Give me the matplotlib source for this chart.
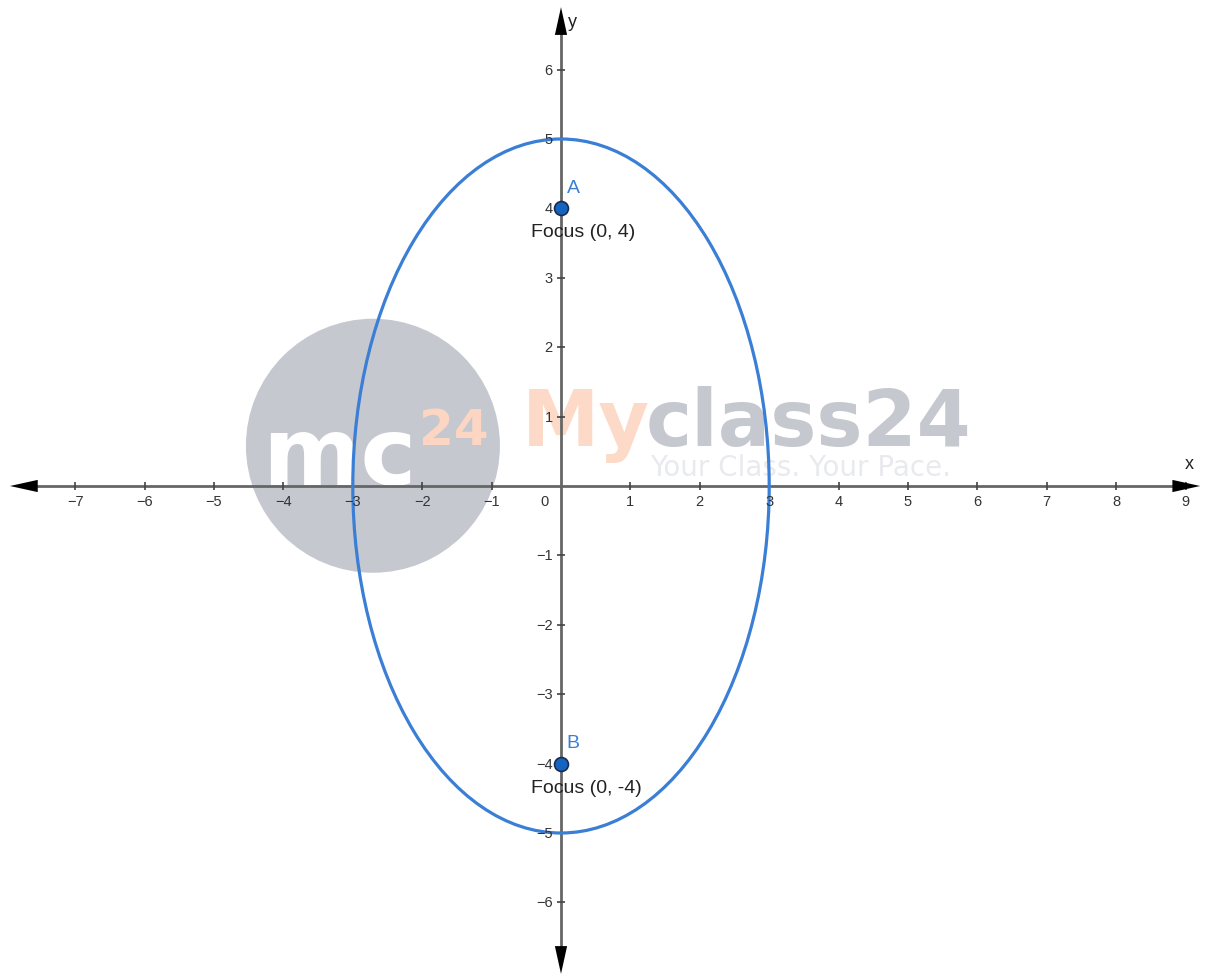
import matplotlib
matplotlib.use("Agg")
import matplotlib.pyplot as plt
from matplotlib.patches import Ellipse, Circle
import numpy as np

# ---- data ----
semi_minor_a = 3      # along x
semi_major_b = 5      # along y
foci_x = [0, 0]
foci_y = [4, -4]
foci_names = ["A", "B"]
foci_labels = ["Focus (0, 4)", "Focus (0, -4)"]
x_ticks = [-7, -6, -5, -4, -3, -2, -1, 1, 2, 3, 4, 5, 6, 7, 8, 9]
y_ticks = [-6, -5, -4, -3, -2, -1, 1, 2, 3, 4, 5, 6]

W, H = 1207, 979
fig = plt.figure(figsize=(W / 100, H / 100), dpi=100)
ax = fig.add_axes([0, 0, 1, 1])
scale = 69.4  # px per unit
x0px, y0px = 561, 487
ax.set_xlim(-x0px / scale, (W - x0px) / scale)
ax.set_ylim(-(H - y0px) / scale, y0px / scale)
ax.set_aspect("equal")
ax.axis("off")

font = "Liberation Sans"
axis_col = "#666666"
tick_col = "#333333"

# ---- watermark ----
ax.add_patch(Circle((-2.71, 0.58), 1.83, color="#c6c8d0", zorder=0, lw=0))
ax.text(-4.3, 0.03, "mc", fontsize=68, fontweight="bold", color="white",
        family="DejaVu Sans", zorder=0.5, ha="left", va="baseline")
ax.text(-2.05, 0.6, "24", fontsize=36, fontweight="bold", color="#fcd6c2",
        family="DejaVu Sans", zorder=0.5, ha="left", va="baseline")
fig.canvas.draw()
r = fig.canvas.get_renderer()
t_my = ax.text(-0.57, 0.59, "My", fontsize=56, fontweight="bold", color="#fdd9c8",
               family="DejaVu Sans", zorder=0.5, ha="left", va="baseline")
bb = t_my.get_window_extent(r)
x_end = ax.transData.inverted().transform((bb.x1, bb.y0))[0]
ax.text(x_end - 0.05, 0.59, "class24", fontsize=56, fontweight="bold", color="#c6c8d0",
        family="DejaVu Sans", zorder=0.5, ha="left", va="baseline")
ax.text(1.28, 0.16, "Your Class. Your Pace.", fontsize=20, color="#e9eaee",
        family="DejaVu Sans", zorder=0.5, ha="left", va="baseline")

# ---- axes with arrows ----
xl, xr = -7.94, 9.21
yb, yt = -7.03, 6.9
ax.plot([xl + 0.2, xr - 0.2], [0, 0], color=axis_col, lw=2, zorder=2)
ax.plot([0, 0], [yb + 0.2, yt - 0.2], color=axis_col, lw=2, zorder=2)
ap = dict(arrowstyle="-|>,head_length=1.0,head_width=0.22", color="black",
          lw=0, mutation_scale=20, shrinkA=0, shrinkB=0)
ax.annotate("", xy=(xr, 0), xytext=(xr - 0.35, 0), arrowprops=ap, zorder=3)
ax.annotate("", xy=(xl, 0), xytext=(xl + 0.35, 0), arrowprops=ap, zorder=3)
ax.annotate("", xy=(0, yt), xytext=(0, yt - 0.35), arrowprops=ap, zorder=3)
ax.annotate("", xy=(0, yb), xytext=(0, yb + 0.35), arrowprops=ap, zorder=3)

ax.text(9.06, 0.2, "x", fontsize=13, family=font, color="#222222",
        ha="center", va="bottom", zorder=5)
ax.text(0.1, 6.7, "y", fontsize=13, family=font, color="#222222",
        ha="left", va="center", zorder=5)

# ticks
ax.plot(x_ticks, [0] * len(x_ticks), ls="none", marker="|", ms=6,
        mew=1.2, color="#444444", zorder=2.5)
ax.plot([0] * len(y_ticks), y_ticks, ls="none", marker="_", ms=6,
        mew=1.2, color="#444444", zorder=2.5)
for t in x_ticks:
    ax.text(t, -0.12, f"{t}".replace("-", "\u2212"), fontsize=10.5, family=font,
            color=tick_col, ha="center", va="top", zorder=5)
for t in y_ticks:
    ax.text(-0.12, t, f"{t}".replace("-", "\u2212"), fontsize=10.5, family=font,
            color=tick_col, ha="right", va="center", zorder=5)
ax.text(-0.24, -0.12, "0", fontsize=10.5, family=font, color=tick_col,
        ha="center", va="top", zorder=5)

# ---- ellipse ----
ax.add_patch(Ellipse((0, 0), 2 * semi_minor_a, 2 * semi_major_b, fill=False,
                     edgecolor="#3a7fd5", lw=2.3, zorder=3))

# ---- foci ----
ax.plot(foci_x, foci_y, ls="none", marker="o", ms=10, mfc="#1565c0",
        mec="#1a2a50", mew=1.2, zorder=4)
for fx, fy, nm, lab in zip(foci_x, foci_y, foci_names, foci_labels):
    ax.text(fx + 0.08, fy + 0.18, nm, fontsize=14, family=font, color="#3a7fd5",
            ha="left", va="bottom", zorder=5)
    ax.text(fx + 0.32 if fy > 0 else fx + 0.36, fy - 0.34, lab, fontsize=14,
            family=font, color="#222222", ha="center", va="center", zorder=5)

fig.savefig("out.png", dpi=100)
